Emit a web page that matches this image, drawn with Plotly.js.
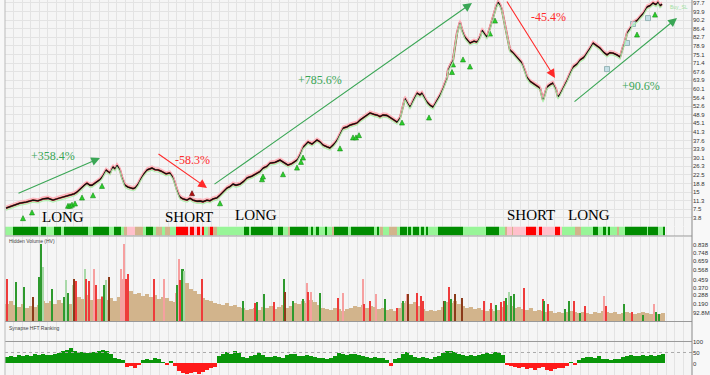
<!DOCTYPE html>
<html>
<head>
<meta charset="utf-8">
<script src="https://cdn.plot.ly/plotly-3.0.1.min.js"></script>
<style>html,body{margin:0;padding:0;background:#f8f8f8;}#chart{width:710px;height:375px;}</style>
</head>
<body>
<div id="chart"></div>
<script>
// ---- price (session index, close) ----
const priceDay = [1,5,9,15,21,28,33,38,43,48,53,58,62,65,69,72,75,77,80,82,85,87,90,92,95,97,99,101,103,105,107,108,110,112,114,115,117,120,123,125,128,130,133,135,138,142,145,147,150,153,156,158,161,165,168,170,172,175,178,182,185,188,192,195,198,202,205,208,212,215,219,222,225,228,231,235,239,242,247,252,255,258,262,265,270,275,279,283,287,292,295,298,300,303,307,312,315,318,322,325,329,332,335,338,342,345,349,352,355,358,362,365,369,372,375,378,382,385,389,392,395,397,399,400,402,405,408,412,415,417,420,422,425,428,431,435,438,440,442,443,445,448,450,452,455,457,460,463,465,469,472,475,477,480,482,485,487,489,491,493,495,497,499,502,505,508,512,515,517,520,522,525,528,532,535,538,540,542,545,548,551,553,555,557,560,562,565,568,572,575,579,582,585,588,592,595,599,602,605,608,612,615,618,620,622,625,628,632,635,638,642,645,648,651,653,655,657];
const priceClose = [8.0,8.6,9.1,10.2,10.6,11.5,11.2,12.0,12.3,11.5,12.2,12.8,13.2,13.7,14.2,15.0,16.3,17.2,18.3,18.9,18.0,18.0,19.0,19.4,20.5,21.6,23.0,24.7,24.0,23.4,25.5,26.0,25.2,26.8,25.5,24.7,21.5,18.0,17.2,16.8,16.5,16.8,18.5,20.3,22.5,24.7,25.2,25.5,24.8,24.7,24.2,23.8,23.0,23.4,21.5,18.9,16.0,12.8,12.0,11.5,12.3,11.5,11.0,11.1,10.8,11.5,11.2,12.0,12.5,13.7,15.5,16.8,17.4,18.5,18.0,18.5,19.8,21.2,22.0,23.4,24.0,25.5,26.3,27.7,28.0,29.0,28.0,26.8,27.5,29.0,31.5,34.7,35.5,36.9,36.0,37.8,37.0,35.6,34.8,34.3,36.0,37.8,40.5,43.0,43.5,44.3,44.8,45.2,46.5,47.4,48.5,49.6,49.0,48.7,48.0,48.7,48.5,47.8,46.5,45.6,47.5,50.9,54.0,56.1,54.5,52.2,55.0,58.3,57.5,58.3,56.0,54.4,53.0,52.2,54.5,57.5,60.5,62.7,65.0,68.4,70.5,72.8,79.0,84.6,89.4,86.0,82.8,81.0,80.2,81.0,80.6,83.0,85.9,84.0,82.8,87.0,90.2,93.5,96.0,98.1,97.0,94.6,90.0,84.6,77.1,76.0,74.1,72.5,71.5,68.0,65.3,63.5,62.7,61.5,60.5,55.3,58.0,61.0,62.0,62.7,60.0,56.6,58.0,59.6,62.0,64.0,67.0,69.7,71.0,72.8,74.0,75.8,78.0,80.2,79.0,78.0,76.0,75.0,76.0,75.8,75.0,74.1,78.5,81.0,84.6,86.5,89.0,90.0,91.6,93.0,96.0,96.5,97.7,97.0,98.1,96.5,97.2];

const priceTicks = [97.7,93.9,90.2,86.4,82.7,78.9,75.1,71.4,67.6,63.9,60.1,56.4,52.6,48.9,45.1,41.3,37.6,33.9,30.1,26.3,22.5,18.8,15,11.3,7.5,3.8];
const priceTickText = ['97.7','93.9','90.2','86.4','82.7','78.9','75.1','71.4','67.6','63.9','60.1','56.4','52.6','48.9','45.1','41.3','37.6','33.9','30.1','26.3','22.5','18.8','15','11.3','7.5','3.8'];

// ---- signals ----
const buyDay = [18,27,63,65,67,70,77,88,97,215,257,258,278,292,296,298,335,348,351,354,397,424,447,448,458,465,485,490,632,650];
const buyPrice = [4.7,7.2,10.1,10.1,10.6,11.1,13.7,14.7,18.8,11.2,21.7,22.9,23.9,26.8,29.3,31.2,35.2,40.0,40.0,41.0,46.5,48.7,68.6,71.9,74.1,71.0,85.4,91.1,85.0,93.7];
const sellDay = [187];
const sellPrice = [15.6];
const stopDay = [602,622,628,643];
const stopPrice = [68.8,80.2,88.5,91.1];

// ---- state strip (run edges in sessions, state per run) 0 red,1 pink,2 tan,3 light green,4 dark green ----
const stripEdges = [0,8,33,36,41,49,56,59,83,88,104,109,116,119,122,130,138,141,148,151,157,160,165,171,183,185,189,192,195,197,199,203,205,208,212,239,244,246,268,273,278,283,285,303,306,308,311,314,320,322,327,329,343,346,369,372,374,375,378,384,392,395,402,403,406,408,414,416,419,421,423,433,458,481,494,500,502,507,508,521,531,534,537,550,555,557,570,576,588,593,598,601,603,605,612,614,620,642,643,653,658,660];
const stripState = [3,4,3,4,3,4,3,4,3,4, 3,4,3,2,1,2,3,4,3,2, 3,2,3,0,1,0,1,0,1,0, 3,2,0,2,3,4,3,4,3,4, 3,2,4,3,4,3,4,3,4,3, 2,4,3,4,3,4,3,2,3,2, 3,4,3,4,3,4,3,4,3,4, 3,4,3,4,3,2,1,2,1,0, 1,0,1,0,1,3,2,3,4,3, 4,3,4,3,2,3,4,3,4,3, 4];

// ---- hidden volume (billions), one value per 4-session bin ----
const hiddenVolume = [0.19,0.22,0.18,0.16,0.19,0.15,0.17,0.16,0.18,0.23,
 0.2,0.22,0.19,0.24,0.2,0.22,0.19,0.23,0.27,0.25,
 0.29,0.24,0.27,0.25,0.28,0.24,0.26,0.23,0.27,0.34,
 0.36,0.33,0.3,0.31,0.28,0.3,0.27,0.29,0.25,0.27,
 0.26,0.23,0.21,0.38,0.47,0.42,0.36,0.33,0.3,0.26,
 0.24,0.22,0.2,0.19,0.18,0.2,0.17,0.18,0.16,0.15,
 0.13,0.14,0.15,0.13,0.16,0.15,0.17,0.14,0.16,0.18,
 0.15,0.17,0.2,0.19,0.22,0.2,0.24,0.21,0.18,0.15,
 0.14,0.13,0.15,0.14,0.12,0.14,0.15,0.17,0.16,0.18,
 0.15,0.17,0.16,0.14,0.15,0.13,0.14,0.12,0.15,0.2,
 0.22,0.19,0.21,0.17,0.14,0.12,0.13,0.11,0.13,0.16,
 0.21,0.2,0.23,0.19,0.17,0.15,0.16,0.14,0.15,0.13,
 0.12,0.14,0.12,0.13,0.16,0.18,0.17,0.15,0.16,0.14,
 0.13,0.15,0.12,0.13,0.11,0.1,0.11,0.09,0.1,0.09,
 0.1,0.11,0.1,0.09,0.1,0.09,0.08,0.1,0.09,0.11,
 0.1,0.09,0.1,0.08,0.09,0.1,0.09,0.08,0.09,0.1,
 0.09,0.08,0.09,0.08,0.09];
const volTicks = [0.0928,0.190,0.288,0.370,0.459,0.568,0.659,0.748,0.838];
const volTickText = ['92.8M','0.190','0.288','0.370','0.459','0.568','0.659','0.748','0.838'];

// volume spikes: session, value, kind
const spikeDay = [2,11,19,28,34,36,38,47,59,61,63,68,69,71,80,81,84,89,91,97,99,101,104,116,117,119,121,123,149,159,171,172,174,175,176,177,178,179,197,
 238,250,252,259,269,279,280,288,298,302,303,306,315,333,338,358,359,365,371,380,392,398,402,403,412,416,418,439,440,444,446,450,457,479,486,491,496,499,501,504,506,509,519,538,539,543,560,564,
 569,575,580,599,601,619,627,638,649,651,654];
const spikeVol = [0.47,0.43,0.38,0.27,0.49,0.85,0.6,0.36,0.27,0.45,0.31,0.4,0.47,0.44,0.57,0.47,0.44,0.58,0.4,0.27,0.4,0.45,0.49,0.58,0.47,0.85,0.47,0.52,0.47,0.47,0.31,0.4,0.68,0.45,0.4,0.57,0.58,0.55,0.47,
 0.22,0.2,0.21,0.3,0.21,0.47,0.32,0.23,0.25,0.42,0.32,0.32,0.31,0.26,0.31,0.47,0.19,0.22,0.3,0.25,0.15,0.23,0.3,0.3,0.31,0.28,0.23,0.23,0.22,0.38,0.25,0.3,0.26,0.22,0.2,0.18,0.21,0.23,0.26,0.32,0.28,0.3,0.37,0.25,0.23,0.19,0.14,0.23,
 0.23,0.09,0.17,0.28,0.17,0.19,0.1,0.07,0.19,0.1,0.08];
const spikeKind = ['r','g','g','d','g','g','lg','g','g','lg','g','lg','d','r','lg','r','r','lr','r','r','g','lg','d','lr','lr','lr','r','r','r','lr','lr','g','lr','r','r','g','g','lg','r',
 'g','r','g','g','r','g','d','g','g','lr','r','lr','g','r','lr','lr','r','r','lr','g','r','g','lr','d','r','r','r','d','g','r','g','d','d','r','r','g','r','r','g','lg','g','g','r','r','g','r','g','g',
 'r','g','r','lr','r','g','r','g','lr','g','g'];

// ---- Synapse HFT ranking, one value per 4-session bin ----
const hftRank = [28,35,30,38,33,40,36,42,38,45,
 40,37,42,48,55,62,70,58,50,54,
 48,52,50,56,60,55,42,25,22,15,
 -18,-12,-20,-8,18,22,16,25,20,8,
 -6,10,-10,-35,-42,-48,-45,-40,-46,-38,
 -30,-22,-18,35,45,50,42,55,48,30,
 25,32,40,46,38,30,28,33,30,27,
 38,45,42,36,34,38,33,28,24,26,
 22,27,35,46,44,38,42,45,40,36,
 28,25,29,24,27,15,-12,20,26,45,
 52,40,28,25,30,26,22,28,32,48,
 55,58,50,45,38,35,40,36,38,44,
 47,42,50,46,40,-5,-12,-18,-22,-15,
 -25,-20,-28,-22,-18,-30,-32,-26,-20,-22,
 -10,8,-6,15,25,28,30,26,32,22,
 20,18,22,20,30,35,38,32,36,40,
 34,38,35,40,42];
const hftTicks = [100,50,0,-50];

// ---- build ----
const BIN = 4;
const binX = (arr) => arr.map((_, i) => BIN * i + BIN / 2);
const kindColor = {r:'#ee3b3b', lr:'#f6a0a0', g:'#2e9a2e', lg:'#a9d9a9', d:'#8b3a1a'};
const PRICE_RANGE = [-4.2, 99.0];
const BAND = 0.9; // envelope offset, in price units (about 2px)

const traces = [
  {type:'heatmap', x:stripEdges, y:[0,1], z:[stripState], xaxis:'x', yaxis:'y2',
   zmin:0, zmax:4, showscale:false, hoverinfo:'skip',
   colorscale:[[0,'#ff0000'],[0.125,'#ff0000'],[0.125,'#ffc0cb'],[0.375,'#ffc0cb'],[0.375,'#d2b48c'],[0.625,'#d2b48c'],[0.625,'#98f598'],[0.875,'#98f598'],[0.875,'#008c00'],[1,'#008c00']]},
  {type:'scatter', mode:'lines', x:priceDay, y:priceClose, yaxis:'y5', line:{color:'rgba(255,175,185,0.9)', width:1.2}, hoverinfo:'skip'},
  {type:'scatter', mode:'lines', x:priceDay, y:priceClose, yaxis:'y6', line:{color:'rgba(170,240,170,0.9)', width:1.2}, hoverinfo:'skip'},
  {type:'scatter', mode:'lines', x:priceDay, y:priceClose, line:{color:'rgba(205,35,35,0.85)', width:2.3}, hoverinfo:'skip'},
  {type:'scatter', mode:'lines', x:priceDay, y:priceClose, line:{color:'#111', width:1.3}},
  {type:'scatter', mode:'markers', x:buyDay, y:buyPrice, marker:{symbol:'arrow-up', size:5, color:'#2bd02b', line:{color:'#138a13', width:0.6}}},
  {type:'scatter', mode:'markers', x:sellDay, y:sellPrice, marker:{symbol:'arrow-up', size:5, color:'#b01010', line:{color:'#600', width:0.6}}},
  {type:'scatter', mode:'markers', x:stopDay, y:stopPrice, marker:{symbol:'square', size:5, color:'#c4dfe6', line:{color:'#8aa', width:0.8}}},
  {type:'bar', x:binX(hiddenVolume), y:hiddenVolume, width:BIN, xaxis:'x', yaxis:'y3', marker:{color:'#d2b48c', line:{width:0}}},
  {type:'bar', x:spikeDay, y:spikeVol, width:1.1, xaxis:'x', yaxis:'y3', marker:{color:spikeKind.map(k => kindColor[k]), line:{width:0}}},
  {type:'bar', x:binX(hftRank), y:hftRank, width:BIN, xaxis:'x', yaxis:'y4',
   marker:{color:hftRank.map(v => v >= 0 ? '#0a960a' : '#ff1a1a'), line:{width:0}}}
];

const tickFont = {family:'Liberation Sans, Arial, sans-serif', size:6, color:'#333'};
const green = '#3aa655', red = '#ff2a2a';
const serif = 'Liberation Serif, Times New Roman, serif';

function pct(text, x, y, color){
  return {text:text, x:x, y:y, xref:'x', yref:'y', showarrow:false, font:{family:serif, size:12, color:color}};
}
function label(text, x, y){
  return {text:text, x:x, y:y, xref:'x', yref:'y', showarrow:false, font:{family:serif, size:15, color:'#000'}};
}
function arrow(x0, y0, x1, y1, color){
  return {x:x1, y:y1, ax:x0, ay:y0, xref:'x', yref:'y', axref:'x', ayref:'y', text:'', showarrow:true,
          arrowhead:2, arrowsize:1.6, arrowwidth:1.1, arrowcolor:color};
}

const annotations = [
  arrow(12,14.2,95,29.9,green), arrow(152,32.1,202,16.8,red), arrow(208,18.0,467,97.7,green),
  arrow(501,99.0,550,64.9,red), arrow(568,54.0,672,91.1,green),
  pct('+358.4%',48,30.8,green), pct('-58.3%',187,29.0,red), pct('+785.6%',315,64.0,green),
  pct('-45.4%',543,91.6,red), pct('+90.6%',636,61.4,green),
  label('LONG',58,4.1), label('SHORT',184,4.1), label('LONG',251,5.0), label('SHORT',526,5.0), label('LONG',584,5.0),
  {text:'Buy_SL', x:663, y:96, xref:'x', yref:'y', xanchor:'left', showarrow:false, font:{family:'Liberation Sans', size:5, color:'#9ee09e'}},
  {text:'Hidden Volume (HV)', x:0.003, y:1-241/375, xref:'paper', yref:'paper', xanchor:'left', yanchor:'middle', showarrow:false, font:{family:'Liberation Sans', size:5, color:'#444'}},
  {text:'Synapse HFT Ranking', x:0.003, y:1-328/375, xref:'paper', yref:'paper', xanchor:'left', yanchor:'middle', showarrow:false, font:{family:'Liberation Sans', size:5, color:'#444'}}
];

const shapes = [
  {type:'line', xref:'paper', yref:'paper', x0:0, x1:1, y0:1-236/375, y1:1-236/375, line:{color:'#999', width:1}},
  {type:'line', xref:'paper', yref:'paper', x0:0, x1:1, y0:1-321.5/375, y1:1-321.5/375, line:{color:'#999', width:1}},
  {type:'line', xref:'paper', yref:'y4', x0:0, x1:1, y0:100, y1:100, line:{color:'#999', width:1}},
  {type:'line', xref:'paper', yref:'y4', x0:0, x1:1, y0:50, y1:50, line:{color:'#aaa', width:1, dash:'dot'}},
  {type:'line', xref:'paper', yref:'paper', x0:0, x1:0, y0:0, y1:1, line:{color:'#bbb', width:1}},
  {type:'line', xref:'paper', yref:'paper', x0:1, x1:1, y0:0, y1:1, line:{color:'#888', width:1}}
];

const layout = {
  width:710, height:375, margin:{l:5, r:18, t:0, b:0},
  paper_bgcolor:'#f8f8f8', plot_bgcolor:'#f5f5f5',
  showlegend:false, barmode:'overlay', bargap:0,
  xaxis:{range:[0,687], tickmode:'linear', tick0:0, dtick:8.5875, showticklabels:false, showgrid:true,
         gridcolor:'#e3e3e3', gridwidth:1, zeroline:false, ticks:'', showline:false, fixedrange:true},
  yaxis:{domain:[1-236/375,1], range:PRICE_RANGE, side:'right', tickmode:'array', tickvals:priceTicks, ticktext:priceTickText,
         tickfont:tickFont, showgrid:true, gridcolor:'#e3e3e3', zeroline:false, ticks:'', showline:false},
  yaxis5:{overlaying:'y', range:[PRICE_RANGE[0]-BAND, PRICE_RANGE[1]-BAND], visible:false},
  yaxis6:{overlaying:'y', range:[PRICE_RANGE[0]+BAND, PRICE_RANGE[1]+BAND], visible:false},
  yaxis2:{domain:[1-235.5/375,1-226.5/375], range:[0,1], showticklabels:false, showgrid:false, zeroline:false, ticks:''},
  yaxis3:{domain:[1-321.5/375,1-237/375], range:[0,0.9255], side:'right', tickmode:'array', tickvals:volTicks, ticktext:volTickText,
          tickfont:tickFont, showgrid:false, zeroline:false, ticks:''},
  yaxis4:{domain:[0,1-322/375], range:[-52.3,188.6], side:'right', tickmode:'array', tickvals:hftTicks, ticktext:hftTicks.map(String),
          tickfont:tickFont, showgrid:false, zeroline:false, ticks:''},
  annotations:annotations, shapes:shapes
};

Plotly.newPlot('chart', traces, layout, {staticPlot:true, displayModeBar:false});
</script>
</body>
</html>
